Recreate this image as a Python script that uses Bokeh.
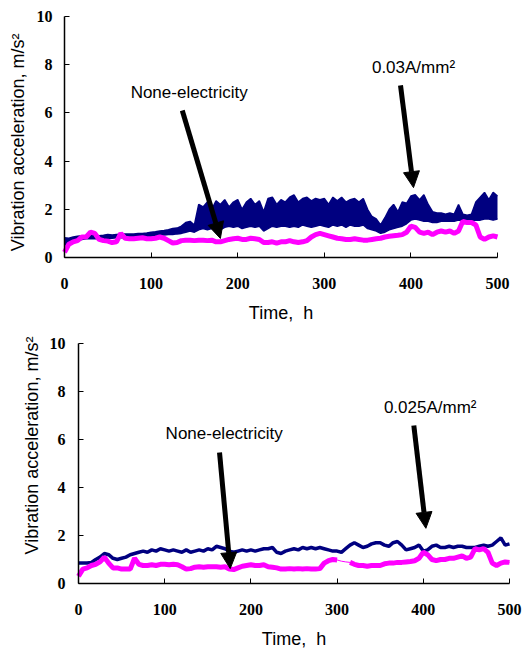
import math
from bokeh.plotting import figure
from bokeh.models import Arrow, NormalHead, Label, FixedTicker, Range1d
from bokeh.embed import file_html
from bokeh.resources import INLINE

# ---------------- data ----------------
time_h = list(range(0, 505, 5))

# top chart (0.03 A/mm2): envelope of the dense navy oscillation
top_navy_upper = [0.82, 0.8, 0.85, 0.88, 0.9, 0.9, 0.92, 0.92, 0.9, 0.92,
                  0.95, 0.93, 0.95, 0.97, 0.97, 0.98, 0.98, 1.0, 1.0, 1.02,
                  1.05, 1.07, 1.1, 1.12, 1.15, 1.2, 1.22, 1.3, 1.45, 1.5,
                  1.35, 2.2, 2.1, 2.3, 2.0, 2.35, 2.2, 2.4, 2.1, 2.3,
                  2.4, 2.0, 2.3, 2.45, 2.2, 2.35, 1.9, 2.45, 2.5, 2.2,
                  2.4, 2.3, 2.5, 2.6, 2.3, 2.45, 2.5, 2.35, 2.45, 2.4,
                  2.45, 2.2, 2.5, 2.35, 2.5, 2.3, 2.4, 2.45, 2.3, 2.45,
                  2.0, 1.7, 1.6, 1.35, 1.65, 2.0, 2.2, 1.9, 2.3, 2.25,
                  2.55, 2.6, 2.4, 2.6, 2.2, 1.9, 1.85, 1.85, 1.8, 1.85,
                  1.8, 2.2, 1.8, 1.75, 1.8, 2.3, 2.5, 2.7, 2.4, 2.7, 2.55]
top_navy_lower = [0.5, 0.6, 0.7, 0.72, 0.75, 0.78, 0.78, 0.78, 0.78, 0.8,
                  0.8, 0.8, 0.82, 0.82, 0.82, 0.83, 0.83, 0.85, 0.85, 0.86,
                  0.88, 0.9, 0.92, 0.93, 0.95, 0.95, 0.98, 1.0, 1.05, 1.1,
                  1.05, 1.15, 1.2, 1.15, 1.2, 1.2, 1.15, 1.25, 1.3, 1.25,
                  1.3, 1.2, 1.25, 1.3, 1.25, 1.3, 1.1, 1.2, 1.3, 1.25,
                  1.3, 1.3, 1.25, 1.3, 1.25, 1.35, 1.3, 1.25, 1.3, 1.35,
                  1.3, 1.25, 1.35, 1.3, 1.35, 1.25, 1.35, 1.3, 1.3, 1.35,
                  1.2, 1.15, 1.1, 1.0, 1.05, 1.15, 1.2, 1.25, 1.3, 1.4,
                  1.55, 1.6, 1.55, 1.5, 1.5, 1.45, 1.45, 1.5, 1.5, 1.5,
                  1.5, 1.55, 1.5, 1.45, 1.5, 1.55, 1.55, 1.6, 1.6, 1.55, 1.6]
top_magenta = [0.22, 0.55, 0.65, 0.7, 0.85, 0.85, 1.05, 1.0, 0.75, 0.7,
               0.68, 0.62, 0.65, 1.0, 0.8, 0.78, 0.78, 0.8, 0.82, 0.78,
               0.78, 0.8, 0.85, 0.8, 0.7, 0.6, 0.62, 0.7, 0.72, 0.72,
               0.7, 0.72, 0.72, 0.7, 0.72, 0.65, 0.65, 0.7, 0.75, 0.78,
               0.8, 0.75, 0.75, 0.8, 0.78, 0.75, 0.62, 0.62, 0.65, 0.6,
               0.65, 0.65, 0.7, 0.65, 0.62, 0.65, 0.7, 0.85, 0.95, 1.0,
               0.95, 0.9, 0.85, 0.8, 0.78, 0.75, 0.75, 0.78, 0.75, 0.72,
               0.72, 0.75, 0.78, 0.8, 0.85, 0.88, 0.9, 0.92, 0.95, 1.05,
               1.3, 1.25, 1.05, 1.0, 1.05, 0.95, 1.05, 1.1, 1.05, 1.1,
               1.0, 1.1, 1.5, 1.45, 1.45, 1.35, 0.85, 0.75, 0.85, 0.9, 0.85]

# bottom chart (0.025 A/mm2)
bot_navy = [0.85, 0.85, 0.85, 0.88, 1.0, 1.1, 1.25, 1.2, 1.05, 1.0,
            1.05, 1.1, 1.2, 1.25, 1.3, 1.35, 1.3, 1.4, 1.35, 1.45,
            1.4, 1.35, 1.4, 1.35, 1.3, 1.4, 1.3, 1.35, 1.4, 1.35,
            1.45, 1.4, 1.55, 1.5, 1.45, 1.35, 1.3, 1.35, 1.4, 1.35,
            1.4, 1.35, 1.4, 1.45, 1.45, 1.5, 1.3, 1.25, 1.35, 1.4,
            1.45, 1.4, 1.5, 1.45, 1.5, 1.45, 1.5, 1.45, 1.4, 1.35,
            1.35, 1.3, 1.45, 1.6, 1.7, 1.6, 1.5, 1.55, 1.65, 1.7,
            1.7, 1.6, 1.55, 1.7, 1.75, 1.6, 1.4, 1.45, 1.5, 1.6,
            1.35, 1.4, 1.55, 1.6, 1.5, 1.5, 1.55, 1.5, 1.55, 1.55,
            1.5, 1.5, 1.5, 1.55, 1.6, 1.55, 1.6, 1.75, 1.9, 1.6, 1.65]
bot_magenta = [0.3, 0.6, 0.65, 0.75, 0.8, 0.9, 1.1, 0.85, 0.65, 0.65,
               0.6, 0.6, 0.6, 1.05, 0.8, 0.75, 0.75, 0.78, 0.75, 0.8,
               0.8, 0.78, 0.8, 0.78, 0.7, 0.6, 0.62, 0.68, 0.7, 0.68,
               0.7, 0.7, 0.7, 0.68, 0.7, 0.6, 0.58, 0.65, 0.72, 0.75,
               0.78, 0.75, 0.75, 0.78, 0.7, 0.68, 0.65, 0.6, 0.6, 0.62,
               0.6, 0.62, 0.6, 0.62, 0.6, 0.6, 0.62, 0.85, 0.95, 1.0,
               0.98, 0.93, 0.9, 0.88, 0.8, 0.75, 0.75, 0.72, 0.75, 0.75,
               0.75, 0.82, 0.85, 0.85, 0.88, 0.88, 0.9, 0.92, 0.95, 1.05,
               1.3, 1.2, 1.0, 0.95, 1.0, 1.0, 1.05, 1.05, 1.1, 1.15,
               1.05, 1.1, 1.45, 1.4, 1.45, 1.3, 0.85, 0.75, 0.85, 0.9, 0.88]
bot_magenta_gap = (300, 315)   # recording gap: only a thin connecting line

x_ticks = [0, 100, 200, 300, 400, 500]
y_ticks = [0, 2, 4, 6, 8, 10]
x_title = "Time,\u00a0\u00a0h"
y_title = "Vibration acceleration, m/s²"

NAVY = "#000080"
MAGENTA = "#FF00FF"
SERIF = "Liberation Serif"
SANS = "Liberation Sans"

W, H = 527, 324


def make_fig(left, top, fw, fh):
    """Figure whose frame is the whole canvas; the data box (0..500 x 0..10)
    sits at pixel offset (left, top) with size fw x fh; axes are fixed at 0."""
    sx = fw / 500.0
    sy = fh / 10.0
    xr = Range1d(-left / sx, 500 + (W - left - fw) / sx)
    yr = Range1d(-(H - top - fh) / sy, 10 + top / sy)
    p = figure(width=W, height=H, frame_width=W, frame_height=H,
               output_backend="svg", toolbar_location=None,
               x_range=xr, y_range=yr,
               min_border_left=0, min_border_right=0,
               min_border_top=0, min_border_bottom=0)
    p.outline_line_color = None
    p.grid.visible = False
    p.xaxis.fixed_location = 0
    p.yaxis.fixed_location = 0
    p.xaxis.bounds = (0, 500)
    p.yaxis.bounds = (0, 10)
    p.axis.axis_line_color = "black"
    p.axis.axis_line_width = 1.5
    p.axis.major_tick_in = 5
    p.axis.major_tick_out = 0
    p.axis.major_tick_line_color = "black"
    p.axis.minor_tick_line_color = None
    p.axis.major_label_text_color = None     # tick labels drawn below as serif text
    p.axis.major_label_text_font_size = "1px"
    p.xaxis.ticker = FixedTicker(ticks=x_ticks)
    p.yaxis.ticker = FixedTicker(ticks=y_ticks)
    return p


def axis_texts(p, xlab_off, ylab_off, xtitle_off, ytitle_off, ytitle_y):
    for t in x_ticks:
        p.add_layout(Label(x=t, y=0, y_offset=xlab_off, text=str(t), text_font=SERIF,
                           text_font_style="bold", text_font_size="16px",
                           text_align="center", text_baseline="middle", text_color="black"))
    for v in y_ticks:
        p.add_layout(Label(x=0, y=v, x_offset=ylab_off, text=str(v), text_font=SERIF,
                           text_font_style="bold", text_font_size="16px",
                           text_align="right", text_baseline="middle", text_color="black"))
    p.add_layout(Label(x=250, y=0, y_offset=xtitle_off, text=x_title, text_font=SANS,
                       text_font_size="18px", text_align="center", text_baseline="middle",
                       text_color="black"))
    p.add_layout(Label(x=0, y=ytitle_y, x_offset=ytitle_off, text=y_title, text_font=SANS,
                       text_font_size="18px", text_align="center", text_baseline="middle",
                       angle=math.pi / 2, text_color="black"))


def annotate(p, text, tx, ty, xs, ys, xe, ye):
    p.add_layout(Label(x=tx, y=ty, text=text, text_font=SANS, text_font_size="17px",
                       text_align="center", text_baseline="middle", text_color="black"))
    p.add_layout(Arrow(end=NormalHead(size=16, fill_color="black", line_color="black"),
                       x_start=xs, y_start=ys, x_end=xe, y_end=ye,
                       line_width=5, line_color="black"))


# ---------- top ----------
p1 = make_fig(64, 16, 433, 241)
p1.varea(x=time_h, y1=top_navy_lower, y2=top_navy_upper, fill_color=NAVY)
p1.line(time_h, top_navy_upper, line_color=NAVY, line_width=1.5)
p1.line(time_h, top_navy_lower, line_color=NAVY, line_width=1.5)
p1.line(time_h, top_magenta, line_color=MAGENTA, line_width=5)
annotate(p1, "None-electricity", 144, 6.85, 136, 6.1, 180, 0.79)
annotate(p1, "0.03A/mm²", 403, 7.9, 388, 7.14, 403, 2.9)
axis_texts(p1, -25.5, -12, -55, -47, 4.78)

# ---------- bottom ----------
p2 = make_fig(78, 19, 431, 240)
p2.line(time_h, bot_navy, line_color=NAVY, line_width=3.5)
thick = [float("nan") if bot_magenta_gap[0] < t < bot_magenta_gap[1] else v
         for t, v in zip(time_h, bot_magenta)]
p2.line(time_h, bot_magenta, line_color=MAGENTA, line_width=1)
p2.line(time_h, thick, line_color=MAGENTA, line_width=5)
annotate(p2, "None-electricity", 169, 6.25, 163.6, 5.46, 176, 0.62)
annotate(p2, "0.025A/mm²", 408, 7.33, 389, 6.58, 403, 2.3)
axis_texts(p2, -25.5, -13, -55.5, -47, 5.75)

open("out.html", "w").write(file_html([p1, p2], INLINE))
